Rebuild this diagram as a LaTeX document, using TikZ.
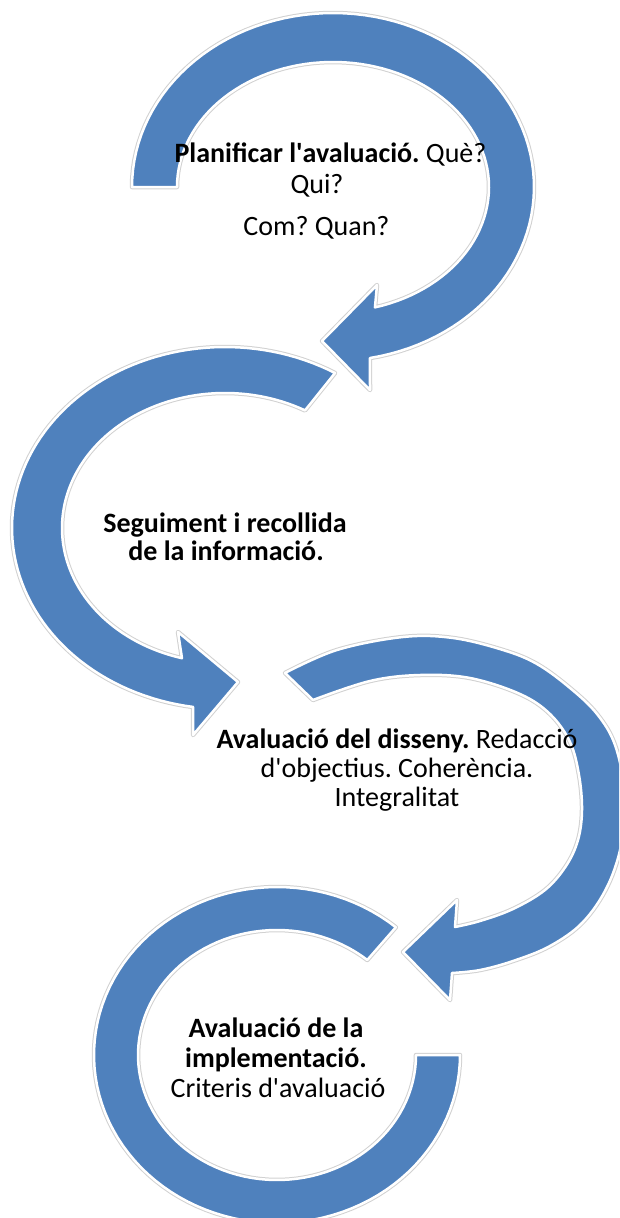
\documentclass[tikz,border=0pt]{standalone}
\usepackage{fontspec}
\setmainfont{Carlito}
\newcommand{\ap}{\textquotesingle}
\definecolor{arrowblue}{RGB}{79,129,189}
\tikzset{
  band/.style={fill=arrowblue, draw=white, line width=2.5pt, line join=round,
    preaction={draw=black!18, line width=4.5pt, line join=round}},
  lbl/.style={anchor=base, inner sep=0pt, font=\fontsize{28}{31}\selectfont, text=black},
}
\frenchspacing
\begin{document}
\begin{tikzpicture}[x=1pt,y=-1pt]
\useasboundingbox (0,0) rectangle (619,1218);
\clip (0,0) rectangle (619,1218);

% arrow 1 (top)
\path[band] plot[domain=180:439.4, samples=90] ({333+201*cos(\x)},{187+174*sin(\x)})
  -- (370,390) -- (322,341) -- (377,285)
  -- plot[domain=434.4:180, samples=90] ({333+156*cos(\x)},{187+125*sin(\x)}) -- cycle;

% arrow 2 (left)
\path[band] plot[domain=-58.9:-261.4, samples=90] ({225+213*cos(\x)},{528+181*sin(\x)})
  -- (193,735) -- (238,682) -- (178,632)
  -- plot[domain=-254.7:-60.6, samples=90] ({225+163*cos(\x)},{528+135*sin(\x)}) -- cycle;

% arrow 3 (right)
\path[band] plot[smooth, tension=0.6] coordinates {(285,673) (337,650) (403,637) (453,638) (503,650) (537,664) (570,688) (597,714) (615,745) (624,790) (622,840) (608,885) (583,922) (550,946) (513,961) (480,970) (452,973)}
  -- (450,1000) -- (403,952) -- (457,900)
  -- plot[smooth, tension=0.6] coordinates {(455,927) (480,921) (513,909) (545,890) (566,866) (578,840) (582,810) (579,775) (570,742) (550,714) (520,694) (470,678) (420,675) (370,681) (313,700)} -- cycle;

% ring 4 (bottom)
\path[band] plot[domain=-49.5:-360, samples=100] ({277+183*cos(\x)},{1055+168*sin(\x)})
  -- plot[domain=-360:-49.5, samples=100] ({277+139*cos(\x)},{1055+125*sin(\x)}) -- cycle;

% texts
\node[lbl] (t1a) at (330.5,162) {\textbf{Planificar l\ap avaluació.} Què?};
\node[lbl] (t1b) at (317,193) {Qui?};
\node[lbl] (t1c) at (316.5,235) {Com? Quan?};

\node[lbl] (t2a) at (225,532) {\textbf{Seguiment i recollida}};
\node[lbl] (t2b) at (226,560) {\textbf{de la informació.}};

\node[lbl] (t3a) at (397,748) {\textbf{Avaluació del disseny.} Redacció};
\node[lbl] (t3b) at (397,777) {d\ap objectius. Coherència.};
\node[lbl] (t3c) at (397,806) {Integralitat};

\node[lbl] (t4a) at (276,1037) {\textbf{Avaluació de la}};
\node[lbl] (t4b) at (276,1067) {\textbf{implementació.}};
\node[lbl] (t4c) at (278,1097) {Criteris d\ap avaluació};
\end{tikzpicture}
\end{document}
